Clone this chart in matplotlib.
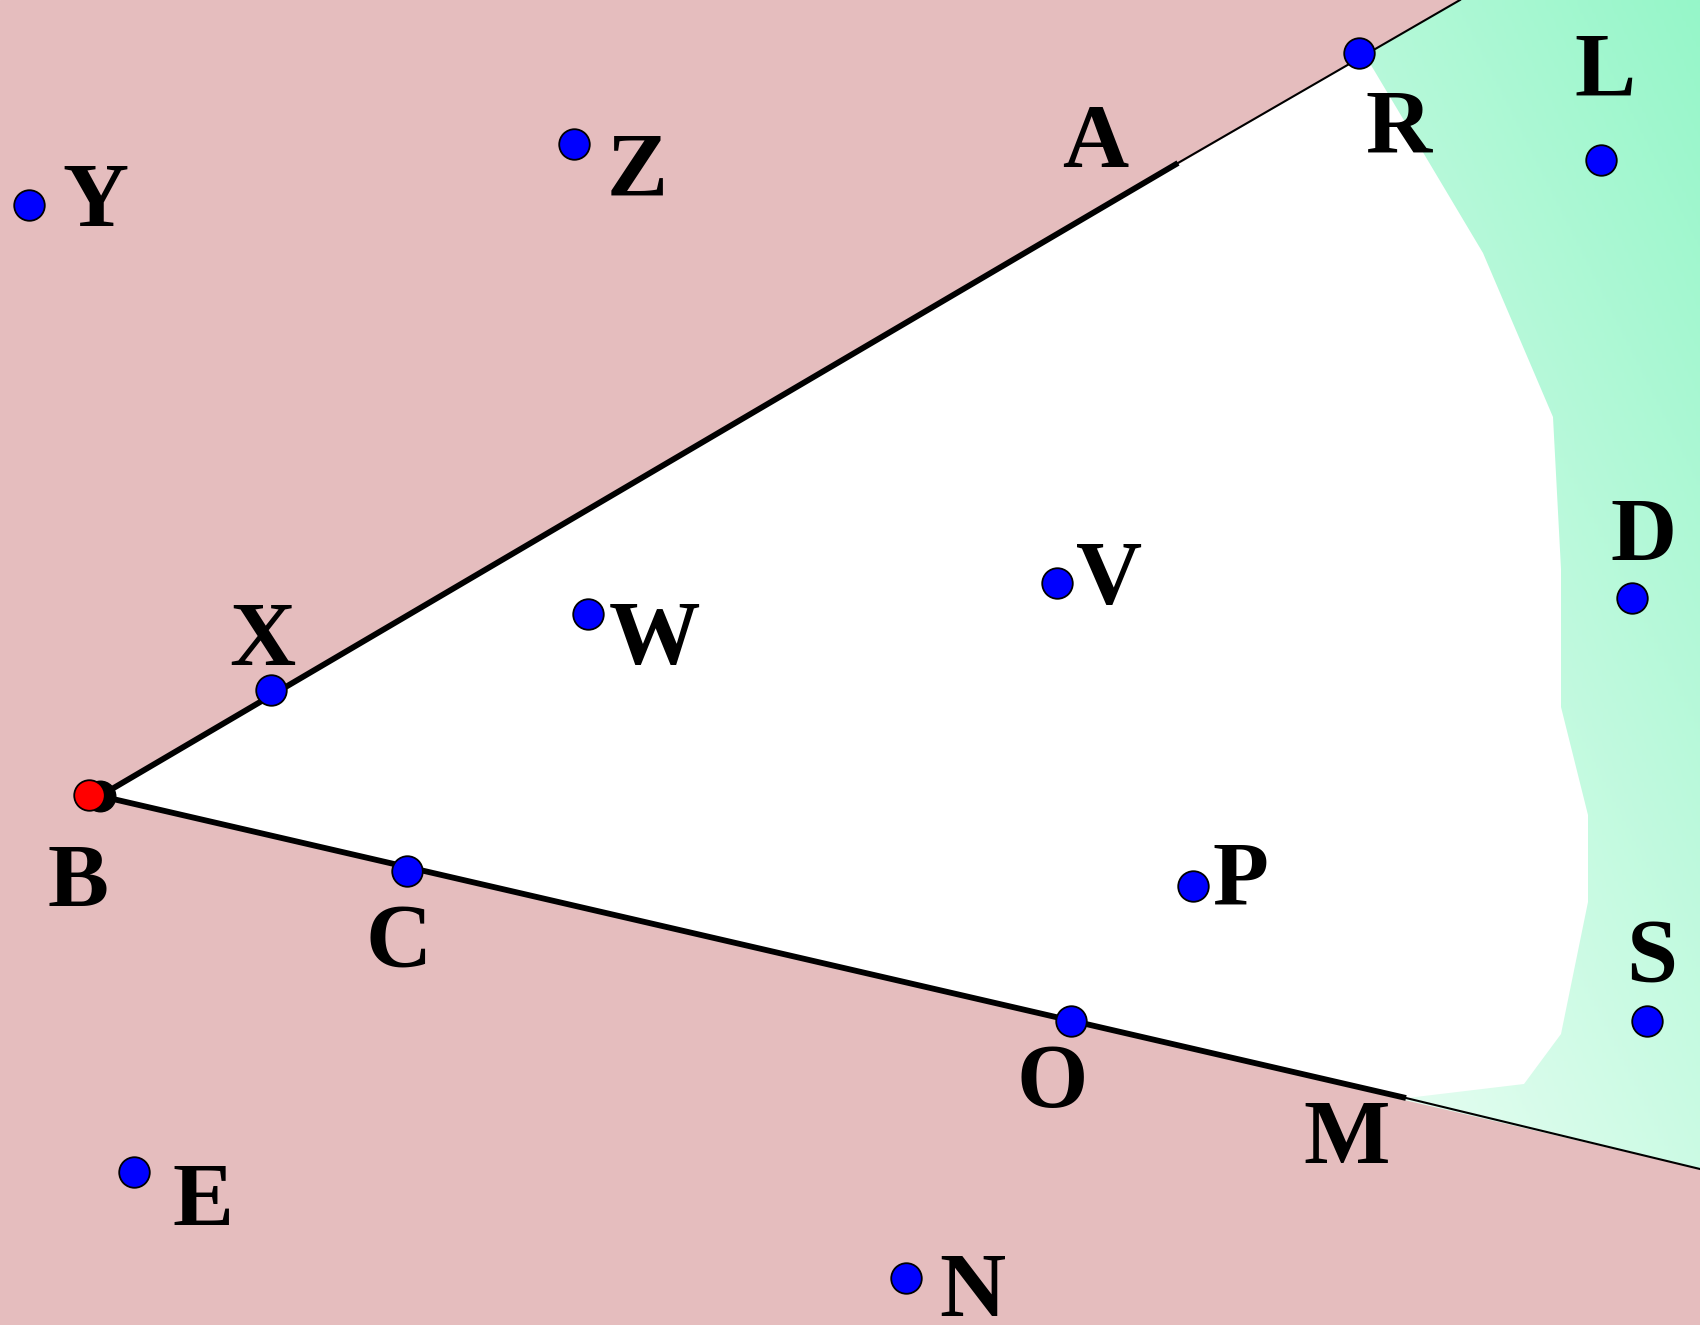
import numpy as np
import matplotlib.pyplot as plt
from matplotlib.patches import Polygon
from matplotlib.colors import LinearSegmentedColormap

# Canvas in pixel units (1700 x 1325), y grows downward
W, H = 1700, 1325

# Vertex of the angle
vertex = (100, 796)

# Ray end points (where they leave the picture) and end of the thick part
ray_up_end = (1460, 0)
ray_up_thick = (1178, 163)
ray_low_end = (1700, 1169)
ray_low_thick = (1406, 1098)

# White region boundary (from the upper ray down to the lower ray)
white_x = [1365, 1483, 1553, 1561, 1561, 1588, 1588, 1561, 1524, 1407]
white_y = [55, 253, 417, 569, 707, 815, 902, 1034, 1084, 1098]

# Named points
names = ["X", "C", "O", "P", "V", "W", "R", "L", "D", "S", "Y", "Z", "E", "N"]
pts_x = [271, 407, 1071, 1193, 1057, 588, 1359, 1601, 1632, 1647, 29, 574, 134, 906]
pts_y = [690, 871, 1021, 886, 583, 614, 53, 160, 598, 1021, 205, 144, 1172, 1278]

# Labels
lab_text = ["A", "R", "L", "Y", "Z", "X", "W", "V", "D", "B", "C", "P", "O", "M", "S", "E", "N"]
lab_x = [1095, 1399, 1605, 95, 637, 262, 655, 1109, 1644, 78, 399, 1240, 1052, 1347, 1652, 203, 972]
lab_y = [139, 125, 68, 198, 168, 637, 636, 576, 533, 879, 939, 877, 1079, 1135, 954, 1198, 1288]

fig = plt.figure(figsize=(17, 13.25), dpi=100)
ax = fig.add_axes([0, 0, 1, 1])
ax.set_xlim(0, W)
ax.set_ylim(H, 0)
ax.axis("off")

# pink background
ax.add_patch(plt.Rectangle((0, 0), W, H, color="#e5bdbe", zorder=0))

# green gradient inside the wedge
wedge = Polygon([vertex, ray_up_end, (W, 0), ray_low_end], closed=True,
                facecolor="none", edgecolor="none")
ax.add_patch(wedge)
gx, gy = np.meshgrid(np.linspace(0, 1, 200), np.linspace(0, 1, 200))
grad = (1 - gx) * 0.45 + gy * 0.75
green = LinearSegmentedColormap.from_list("g", ["#96f6c9", "#effef6"])
im = ax.imshow(grad, cmap=green, extent=[1300, W, H, 0], zorder=1, vmin=0, vmax=1.1)
im.set_clip_path(wedge)

# white region
white = [vertex] + list(zip(white_x, white_y))
ax.add_patch(Polygon(white, closed=True, facecolor="white", edgecolor="none", zorder=2))

# rays: thick part then thin continuation
ax.plot([vertex[0], ray_up_thick[0]], [vertex[1], ray_up_thick[1]], color="black", lw=4.2,
        solid_capstyle="butt", zorder=3)
ax.plot([ray_up_thick[0], ray_up_end[0]], [ray_up_thick[1], ray_up_end[1]], color="black", lw=1.5,
        zorder=3)
ax.plot([vertex[0], ray_low_thick[0]], [vertex[1], ray_low_thick[1]], color="black", lw=4.2,
        solid_capstyle="butt", zorder=3)
ax.plot([ray_low_thick[0], ray_low_end[0]], [ray_low_thick[1], ray_low_end[1]], color="black", lw=1.5,
        zorder=3)

# points
ax.plot(pts_x, pts_y, "o", ms=22, mfc="#0000ff", mec="black", mew=1.3, zorder=4)
ax.plot([vertex[0]], [vertex[1]], "o", ms=22, mfc="black", mec="black", zorder=4)
ax.plot([vertex[0] - 11], [vertex[1] - 1], "o", ms=22, mfc="#ff0000", mec="black", mew=1.3, zorder=5)

for t, x, y in zip(lab_text, lab_x, lab_y):
    ax.text(x, y + 6, t, fontsize=66, fontweight="bold",
            family=["Liberation Serif", "DejaVu Serif"],
            ha="center", va="center", color="black", zorder=6)

fig.savefig("out.png", dpi=100)
